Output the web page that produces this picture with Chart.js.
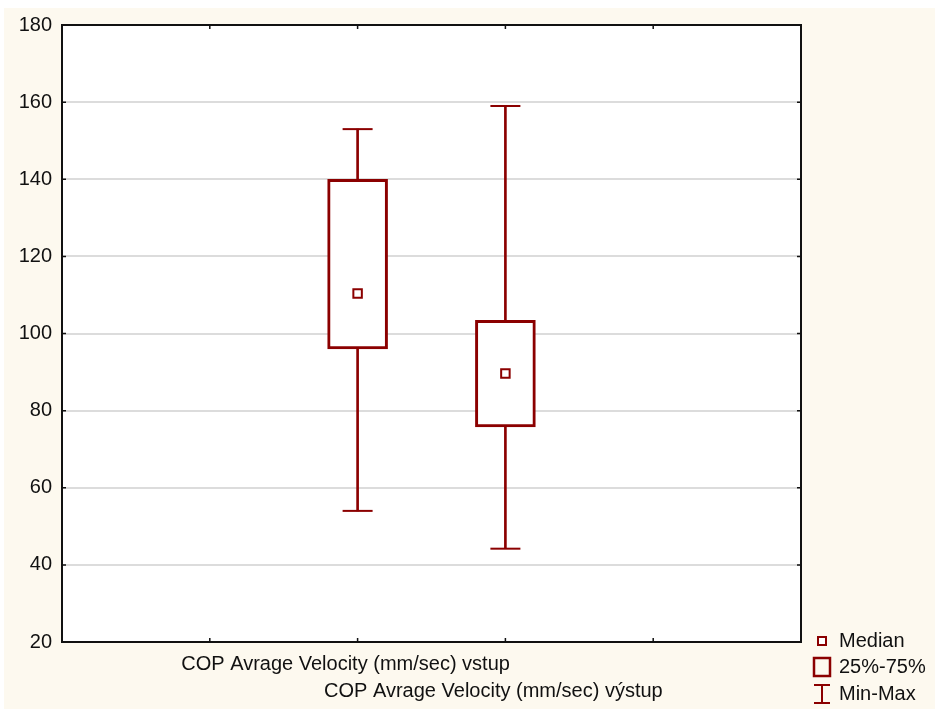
<!DOCTYPE html>
<html>
<head>
<meta charset="utf-8">
<script src="https://cdn.jsdelivr.net/npm/chart.js@4"></script>
<style>
  html, body { margin: 0; padding: 0; background: #fff; }
  canvas { display: block; }
</style>
</head>
<body>
<canvas id="boxChart" width="935" height="709"></canvas>
<script>
// data
const categories = ['COP Avrage Velocity (mm/sec) vstup', 'COP Avrage Velocity (mm/sec) výstup'];
const minValues = [54, 44.2];
const q1Values = [96, 75.8];
const medianValues = [110.4, 89.6];
const q3Values = [140, 103.4];
const maxValues = [153, 159];
const yMin = 20, yMax = 180, yStep = 20;
const legendLabels = ['Median', '25%-75%', 'Min-Max'];

const DARK_RED = '#8b0000';
const FONT = '"Liberation Sans", Arial, sans-serif';

// two empty slots each side of the two boxes, like the original axis
const slots = ['', '', ...categories, '', ''];
const pad = arr => [null, null, ...arr, null, null];

const framePlugin = {
    id: 'frame',
    beforeDraw(chart) {
        const { ctx, chartArea: a } = chart;
        ctx.save();
        ctx.fillStyle = '#fdf9ef';
        ctx.fillRect(4, 8, chart.width - 4, chart.height - 8);
        ctx.fillStyle = '#ffffff';
        ctx.fillRect(a.left, a.top, a.right - a.left, a.bottom - a.top);
        ctx.restore();
    },
    afterDraw(chart) {
        const { ctx, chartArea: a, scales } = chart;
        ctx.save();
        // small inner tick marks
        ctx.strokeStyle = '#111';
        ctx.lineWidth = 1.5;
        ctx.beginPath();
        for (let i = 1; i < slots.length - 1; i++) {
            const x = scales.x.getPixelForValue(i);
            ctx.moveTo(x, a.bottom); ctx.lineTo(x, a.bottom - 4);
            ctx.moveTo(x, a.top); ctx.lineTo(x, a.top + 4);
        }
        for (let v = yMin + yStep; v < yMax; v += yStep) {
            const y = scales.y.getPixelForValue(v);
            ctx.moveTo(a.left, y); ctx.lineTo(a.left + 4, y);
            ctx.moveTo(a.right, y); ctx.lineTo(a.right - 4, y);
        }
        ctx.stroke();
        // frame
        ctx.lineWidth = 2;
        ctx.strokeStyle = '#111';
        ctx.strokeRect(a.left, a.top, a.right - a.left, a.bottom - a.top);

        // legend, bottom right
        const lx = a.right + 21, tx = a.right + 38;
        ctx.strokeStyle = DARK_RED;
        ctx.fillStyle = '#fff';
        ctx.lineWidth = 2;
        ctx.fillRect(lx - 4, 637, 8, 8);
        ctx.strokeRect(lx - 4, 637, 8, 8);
        ctx.lineWidth = 2.5;
        ctx.strokeRect(lx - 8, 658, 16, 18);
        ctx.lineWidth = 2;
        ctx.beginPath();
        ctx.moveTo(lx, 685); ctx.lineTo(lx, 703);
        ctx.moveTo(lx - 8, 685); ctx.lineTo(lx + 8, 685);
        ctx.moveTo(lx - 8, 703); ctx.lineTo(lx + 8, 703);
        ctx.stroke();
        ctx.fillStyle = '#111';
        ctx.font = '20px ' + FONT;
        ctx.textBaseline = 'middle';
        ctx.fillText(legendLabels[0], tx, 641);
        ctx.fillText(legendLabels[1], tx, 667);
        ctx.fillText(legendLabels[2], tx, 694);
        ctx.restore();
    }
};

new Chart(document.getElementById('boxChart'), {
    type: 'bar',
    data: {
        labels: slots,
        datasets: [
            {
                // median marker
                type: 'line',
                data: pad(medianValues),
                showLine: false,
                pointStyle: 'rect',
                pointRadius: 6,
                pointBackgroundColor: '#fff',
                pointBorderColor: DARK_RED,
                pointBorderWidth: 2,
                order: 1
            },
            {
                // 25%-75% box
                data: pad(q1Values.map((q, i) => [q, q3Values[i]])),
                backgroundColor: '#fff',
                borderColor: DARK_RED,
                borderWidth: 3,
                borderSkipped: false,
                barThickness: 60,
                grouped: false,
                order: 2
            },
            {
                // whisker line min-max
                data: pad(minValues.map((m, i) => [m, maxValues[i]])),
                backgroundColor: DARK_RED,
                borderWidth: 0,
                barThickness: 2,
                grouped: false,
                order: 3
            },
            {
                type: 'line',
                data: pad(maxValues),
                showLine: false,
                pointStyle: 'line',
                pointRadius: 15,
                pointBorderColor: DARK_RED,
                pointBorderWidth: 2,
                order: 4
            },
            {
                type: 'line',
                data: pad(minValues),
                showLine: false,
                pointStyle: 'line',
                pointRadius: 15,
                pointBorderColor: DARK_RED,
                pointBorderWidth: 2,
                order: 4
            }
        ]
    },
    options: {
        responsive: false,
        animation: false,
        events: [],
        layout: { padding: { top: 25, right: 134, left: 0, bottom: 0 } },
        plugins: {
            legend: { display: false },
            tooltip: { enabled: false }
        },
        scales: {
            x: {
                offset: false,
                grid: { display: false },
                border: { display: false },
                ticks: {
                    autoSkip: false,
                    maxRotation: 0,
                    padding: 1,
                    labelOffset: -12,
                    color: '#111',
                    font: { family: FONT, size: 20, lineHeight: 1.35 },
                    callback: (v, i) => {
                        const k = categories.indexOf(slots[i]);
                        if (k < 0) return '';
                        return k === 0 ? [slots[i], ''] : ['', slots[i]];
                    }
                },
                afterFit: s => { s.height = 67; }
            },
            y: {
                min: yMin,
                max: yMax,
                grid: { color: '#dcdcdc', lineWidth: 2, drawTicks: false },
                border: { display: false },
                ticks: {
                    stepSize: yStep,
                    padding: 10,
                    color: '#111',
                    font: { family: FONT, size: 20 }
                },
                afterFit: s => { s.width = 62; }
            }
        }
    },
    plugins: [framePlugin]
});
</script>
</body>
</html>
